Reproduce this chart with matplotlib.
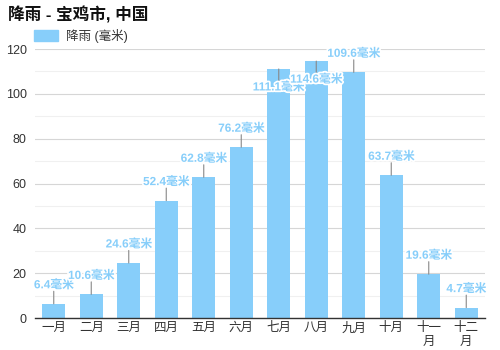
import matplotlib.pyplot as plt
import matplotlib.patheffects as pe
from matplotlib.patches import Patch

plt.rcParams['font.family'] = ['Liberation Sans', 'Noto Sans CJK SC', 'DejaVu Sans']

# === Data ===
MONTHS = ['一月', '二月', '三月', '四月', '五月', '六月',
          '七月', '八月', '九月', '十月', '十一\n月', '十二\n月']
RAIN_MM = [6.4, 10.6, 24.6, 52.4, 62.8, 76.2, 111.1, 114.6, 109.6, 63.7, 19.6, 4.7]
Y_MAX = 120
BAR_COLOR = '#87cefa'

fig = plt.figure(figsize=(5, 3.5), dpi=100)
ax = fig.add_axes([0.07, 0.091, 0.90, 0.769])

x = list(range(len(MONTHS)))
ax.bar(x, RAIN_MM, width=0.62, color=BAR_COLOR, zorder=2)

# value labels with a short leader line; flipped inside the bar near the top
halo = [pe.withStroke(linewidth=2.5, foreground='white')]
for xi, v in zip(x, RAIN_MM):
    inside = v + 10 > Y_MAX
    dy = -9 if inside else 9
    ax.annotate('', xy=(xi, v), xytext=(0, dy), textcoords='offset points',
                arrowprops=dict(arrowstyle='-', color='#888888', lw=0.8,
                                shrinkA=0, shrinkB=0), zorder=3)
    ax.annotate(f'{v}毫米', xy=(xi, v), xytext=(0, dy), textcoords='offset points',
                ha='center', va='top' if inside else 'bottom',
                color=BAR_COLOR, fontsize=8.5, fontweight='bold',
                path_effects=halo, zorder=4)

ax.set_xlim(-0.5, len(MONTHS) - 0.5)
ax.set_ylim(0, Y_MAX)
ax.set_yticks(range(0, Y_MAX + 1, 20))
ax.set_yticks(range(10, Y_MAX, 20), minor=True)
ax.grid(axis='y', which='major', color='#d6d6d6', lw=0.8, zorder=0)
ax.grid(axis='y', which='minor', color='#f0f0f0', lw=0.8, zorder=0)
ax.set_xticks(x)
ax.set_xticklabels(MONTHS, fontsize=9, color='#333333', linespacing=1.15)
ax.tick_params(axis='y', labelsize=9, labelcolor='#333333', length=0, pad=6)
ax.tick_params(axis='y', which='minor', length=0)
ax.tick_params(axis='x', length=0, pad=3)

for side in ['top', 'right', 'left']:
    ax.spines[side].set_visible(False)
ax.spines['bottom'].set_color('#333333')
ax.spines['bottom'].set_linewidth(1)

fig.text(0.016, 0.958, '降雨 - 宝鸡市, 中国', fontsize=12, fontweight='bold',
         color='#111111', va='center')
fig.legend(handles=[Patch(color=BAR_COLOR, label='降雨 (毫米)')],
           loc='center left', bbox_to_anchor=(0.056, 0.898), frameon=False,
           fontsize=9, handlelength=1.9, handleheight=1.0, labelcolor='#333333',
           borderpad=0, handletextpad=0.6)

fig.savefig('out.png', dpi=100, facecolor='white')
